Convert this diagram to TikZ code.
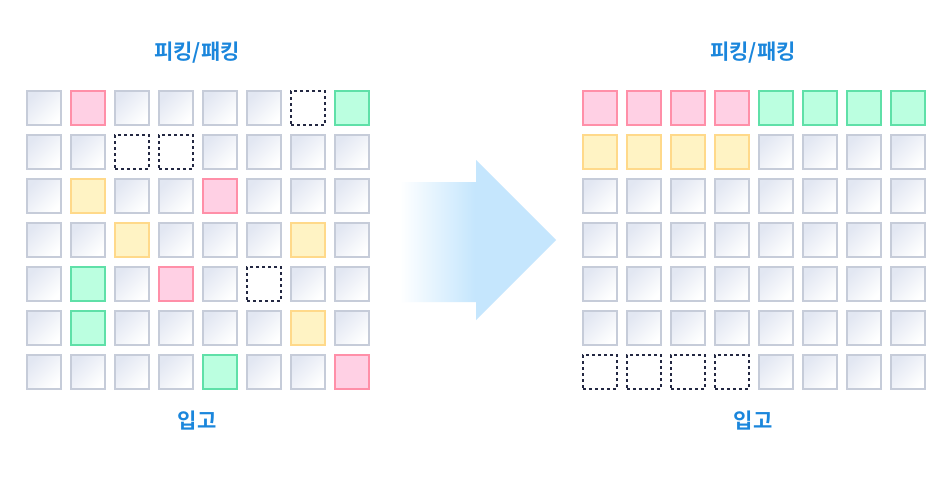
\documentclass[tikz,border=0pt]{standalone}
\usepackage{fontspec}
\newfontfamily\kr{Noto Sans CJK KR}[BoldFont={Noto Sans CJK KR Bold}]
\definecolor{ttl}{HTML}{1A86DC}
\definecolor{gbord}{HTML}{C6CCD9}
\definecolor{gtop}{HTML}{E2E7F2}
\definecolor{pfill}{HTML}{FFD0E4}
\definecolor{pbord}{HTML}{FF8FA8}
\definecolor{grfill}{HTML}{BBFFE0}
\definecolor{grbord}{HTML}{5FE0A8}
\definecolor{yfill}{HTML}{FFF3C4}
\definecolor{ybord}{HTML}{FFD98A}
\definecolor{dbord}{HTML}{232842}
\definecolor{arrblue}{HTML}{C5E6FD}
\pgfdeclarehorizontalshading{arrowshade}{100bp}{color(0bp)=(white); color(25bp)=(white); color(49bp)=(arrblue); color(100bp)=(arrblue)}
\tikzset{
  cellbase/.style={rectangle, minimum size=34pt, inner sep=0pt, line width=2pt},
  cg/.style={cellbase, draw=gbord, shading=axis, top color=gtop, bottom color=white, shading angle=45},
  cp/.style={cellbase, draw=pbord, fill=pfill},
  cn/.style={cellbase, draw=grbord, fill=grfill},
  cy/.style={cellbase, draw=ybord, fill=yfill},
  cd/.style={cellbase, draw=dbord, dash pattern=on 3pt off 3pt, fill=white},
  ttltext/.style={font=\kr\bfseries\fontsize{21pt}{25pt}\selectfont, text=ttl, inner sep=0pt},
}
\begin{document}
\begin{tikzpicture}[x=1pt,y=-1pt]
\fill[white] (0,0) rectangle (952,480);
\useasboundingbox (0,0) rectangle (952,480);
% left grid
\foreach \row [count=\r from 0] in {
  {cg,cp,cg,cg,cg,cg,cd,cn},
  {cg,cg,cd,cd,cg,cg,cg,cg},
  {cg,cy,cg,cg,cp,cg,cg,cg},
  {cg,cg,cy,cg,cg,cg,cy,cg},
  {cg,cn,cg,cp,cg,cd,cg,cg},
  {cg,cn,cg,cg,cg,cg,cy,cg},
  {cg,cg,cg,cg,cn,cg,cg,cp}} {
  \foreach \s [count=\c from 0] in \row {
    \node[\s] (L-\r-\c) at (44+44*\c,108+44*\r) {};
  }
}
% right grid
\foreach \row [count=\r from 0] in {
  {cp,cp,cp,cp,cn,cn,cn,cn},
  {cy,cy,cy,cy,cg,cg,cg,cg},
  {cg,cg,cg,cg,cg,cg,cg,cg},
  {cg,cg,cg,cg,cg,cg,cg,cg},
  {cg,cg,cg,cg,cg,cg,cg,cg},
  {cg,cg,cg,cg,cg,cg,cg,cg},
  {cd,cd,cd,cd,cg,cg,cg,cg}} {
  \foreach \s [count=\c from 0] in \row {
    \node[\s] (R-\r-\c) at (600+44*\c,108+44*\r) {};
  }
}
% titles
\node[ttltext] (tl) at (197,53) {피킹/패킹};
\node[ttltext] (tr) at (753,53) {피킹/패킹};
\node[ttltext] (bl) at (197,421) {입고};
\node[ttltext] (br) at (753,421) {입고};
% arrow
\shade[shading=arrowshade] (400,182) -- (476,182) -- (476,160) -- (556,240) -- (476,320) -- (476,302) -- (400,302) -- cycle;
\end{tikzpicture}
\end{document}
